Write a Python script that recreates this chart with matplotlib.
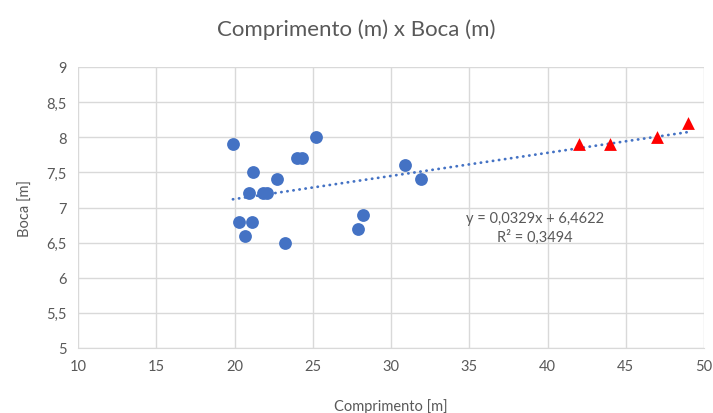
import matplotlib
matplotlib.use("Agg")
import matplotlib.pyplot as plt
from matplotlib.ticker import FuncFormatter, MultipleLocator

# Data
comprimento_a = [19.9, 21.2, 20.9, 21.8, 22.1, 22.7, 24.0, 24.3, 25.2,
                 20.3, 21.1, 20.7, 23.2, 27.9, 28.2, 30.9, 31.9]
boca_a = [7.9, 7.5, 7.2, 7.2, 7.2, 7.4, 7.7, 7.7, 8.0,
          6.8, 6.8, 6.6, 6.5, 6.7, 6.9, 7.6, 7.4]
comprimento_b = [42, 44, 47, 49]
boca_b = [7.9, 7.9, 8.0, 8.2]

slope = 0.0329
intercept = 6.4622
r2 = 0.3494

blue = "#4472C4"
gray = "#595959"
grid = "#D9D9D9"

plt.rcParams['font.family'] = ['Lato', 'DejaVu Sans']

fig = plt.figure(figsize=(7.13, 4.14), dpi=100)
ax = fig.add_axes([78 / 713, 1 - 349 / 414, (704 - 78) / 713, (349 - 68) / 414])

# trend line over all points
all_x = comprimento_a + comprimento_b
x0, x1 = min(all_x), max(all_x)
ax.plot([x0, x1], [slope * x0 + intercept, slope * x1 + intercept],
        color=blue, lw=2.0, linestyle=(0, (0.1, 2.1)), dash_capstyle="round", zorder=2)

ax.scatter(comprimento_a, boca_a, s=85, color=blue, zorder=3, linewidths=0)
ax.scatter(comprimento_b, boca_b, s=85, marker="^", color="#FF0000", zorder=3, linewidths=0)

ax.set_xlim(10, 50)
ax.set_ylim(5, 9)
ax.xaxis.set_major_locator(MultipleLocator(5))
ax.yaxis.set_major_locator(MultipleLocator(0.5))
fmt = FuncFormatter(lambda v, p: f"{v:g}".replace(".", ","))
ax.yaxis.set_major_formatter(fmt)
ax.xaxis.set_major_formatter(fmt)

ax.grid(True, color=grid, lw=1)
ax.set_axisbelow(True)
for name, sp in ax.spines.items():
    sp.set_visible(name == "bottom")
    sp.set_color(grid)
ax.tick_params(length=0, labelsize=10.5, colors=gray, pad=8)

ax.text(39.2, 6.72, f"y = {slope:.4f}x + {intercept:.4f}".replace(".", ",")
        + "\n" + f"R² = {r2:.4f}".replace(".", ","),
        ha="center", va="center", fontsize=10.5, color=gray, linespacing=1.3)

ax.set_xlabel("Comprimento [m]", fontsize=10.5, color=gray, labelpad=18)
ax.set_ylabel("Boca [m]", fontsize=10.5, color=gray, labelpad=10)
fig.text(0.5, 1 - 30 / 414, "Comprimento (m) x Boca (m)", ha="center", va="center",
         fontsize=16, color=gray)

fig.savefig("out.png", dpi=100)
